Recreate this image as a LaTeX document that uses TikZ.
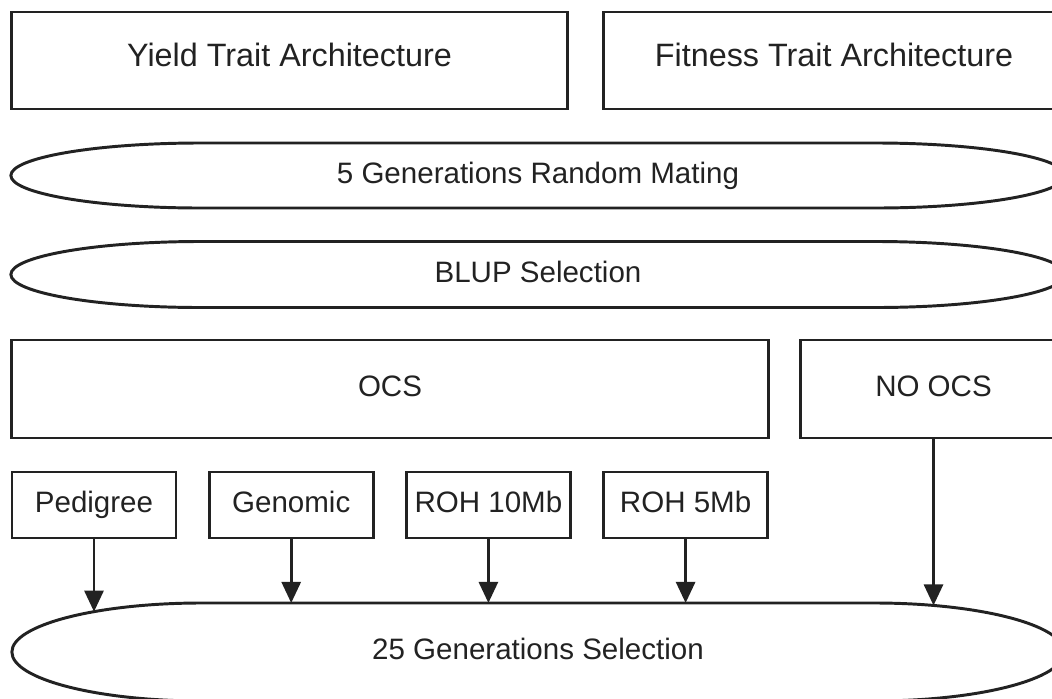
\documentclass[tikz,border=0pt]{standalone}
\usepackage{fontspec}
\setmainfont{Liberation Sans}
\usetikzlibrary{arrows.meta}
\definecolor{ink}{HTML}{222222}
\tikzset{
    box/.style={draw=ink, line width=2.1pt, text=ink, font=\fontsize{21}{25}\selectfont,
        text height=15pt, text depth=4pt},
    bigbox/.style={box, font=\fontsize{23}{27}\selectfont, minimum height=2.425cm,
        text height=16.5pt, text depth=7.8pt},
    pill/.style={text=ink, outer sep=0pt, minimum height=#1, font=\fontsize{21}{25}\selectfont,
        text height=15pt, text depth=4pt},
    outline/.style={draw=ink, line width=2.1pt},
    link/.style={draw=ink, line width=2.1pt, -{Triangle[length=15pt, width=13.5pt]}},
}

\begin{document}
\begin{tikzpicture}[x=0.025cm, y=-0.025cm]
    \useasboundingbox (0, 0) rectangle (1052, 698);
    \node[bigbox, minimum width=13.875cm] (yield) at (289.5, 60.5) {Yield Trait Architecture};
    \node[bigbox, minimum width=11.5cm] (fitness) at (834, 60.5) {Fitness Trait Architecture};
    \node[pill=1.625cm, minimum width=26.35cm] (mating) at (538, 175.5) {5 Generations Random Mating};
    \node[pill=1.65cm, minimum width=26.35cm] (blup) at (538, 274.5) {BLUP Selection};
    \node[box, minimum width=18.9cm, minimum height=2.45cm] (ocs) at (390, 389) {OCS};
    \node[box, minimum width=6.625cm, minimum height=2.45cm] (noocs) at (933.5, 389) {NO OCS};
    \node[pill=2.45cm, minimum width=26.3cm] (sel) at (538, 652) {25 Generations Selection};
    \foreach \e/\ry in {mating/0.8125, blup/0.825, sel/1.225} {
        \draw[outline] ([xshift=4.75cm]\e.north west) -- ([xshift=-4.75cm]\e.north east)
            arc[start angle=90, end angle=-90, x radius=4.75cm, y radius=\ry cm]
            -- ([xshift=4.75cm]\e.south west)
            arc[start angle=270, end angle=90, x radius=4.75cm, y radius=\ry cm] -- cycle;
    }
    \foreach \name/\lbl [count=\i from 0] in {ped/Pedigree, geno/Genomic, rohten/ROH 10Mb, rohfive/ROH 5Mb} {
        \node[box, minimum width=4.1cm, minimum height=1.65cm] (\name) at (94 + 197.2*\i, 505) {\lbl};
    }
    \coordinate (ped end) at (94, 611.7);
    \coordinate (noocs end) at (933.5, 605.5);
    \draw[link] (ped) -- (ped end);
    \foreach \name in {geno, rohten, rohfive} {
        \draw[link] (\name) -- (\name |- sel.north);
    }
    \draw[link] (noocs) -- (noocs end);
\end{tikzpicture}
\end{document}
